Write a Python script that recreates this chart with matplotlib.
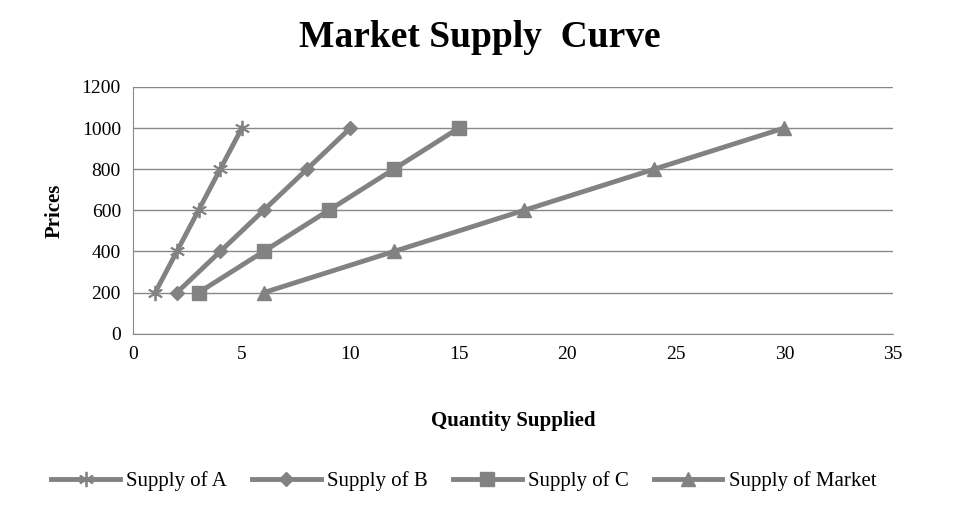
import matplotlib
matplotlib.use("Agg")
import matplotlib.pyplot as plt

prices = [200, 400, 600, 800, 1000]
qty_a = [1, 2, 3, 4, 5]
qty_b = [2, 4, 6, 8, 10]
qty_c = [3, 6, 9, 12, 15]
qty_m = [6, 12, 18, 24, 30]
labels = ["Supply of A", "Supply of B", "Supply of C", "Supply of Market"]

plt.rcParams['font.family'] = ['Liberation Serif', 'DejaVu Serif']
fig = plt.figure(figsize=(9.6, 5.05), dpi=100)
ax = fig.add_axes([0.139, 0.339, 0.791, 0.489])
col = '#828282'
ax.plot(qty_a, prices, color=col, lw=3.5, marker=(6, 2, 0), ms=11, mew=1.3, label=labels[0])
ax.plot(qty_b, prices, color=col, lw=3.5, marker='D', ms=7, label=labels[1])
ax.plot(qty_c, prices, color=col, lw=3.5, marker='s', ms=10, label=labels[2])
ax.plot(qty_m, prices, color=col, lw=3.5, marker='^', ms=10, label=labels[3])
ax.set_xlim(0, 35)
ax.set_ylim(0, 1200)
ax.set_xticks(range(0, 36, 5))
ax.set_yticks(range(0, 1201, 200))
ax.yaxis.grid(True, color='#888888', lw=1)
ax.set_axisbelow(True)
for s in ['top', 'right']:
    ax.spines[s].set_visible(False)
ax.spines['left'].set_color('#888888')
ax.spines['bottom'].set_color('#888888')
ax.tick_params(labelsize=14, length=0, pad=9)
ax.set_xlabel("Quantity Supplied", fontsize=15, fontweight='bold', labelpad=34)
ax.set_ylabel("Prices", fontsize=15, fontweight='bold', labelpad=12)
fig.suptitle("Market Supply  Curve", fontsize=27, fontweight='bold', y=0.96)
fig.legend(loc='lower center', bbox_to_anchor=(0.483, -0.01), ncol=4, frameon=False,
           fontsize=15, handlelength=3.3, columnspacing=1.2, handletextpad=0.3)
fig.savefig("out.png", dpi=100)
